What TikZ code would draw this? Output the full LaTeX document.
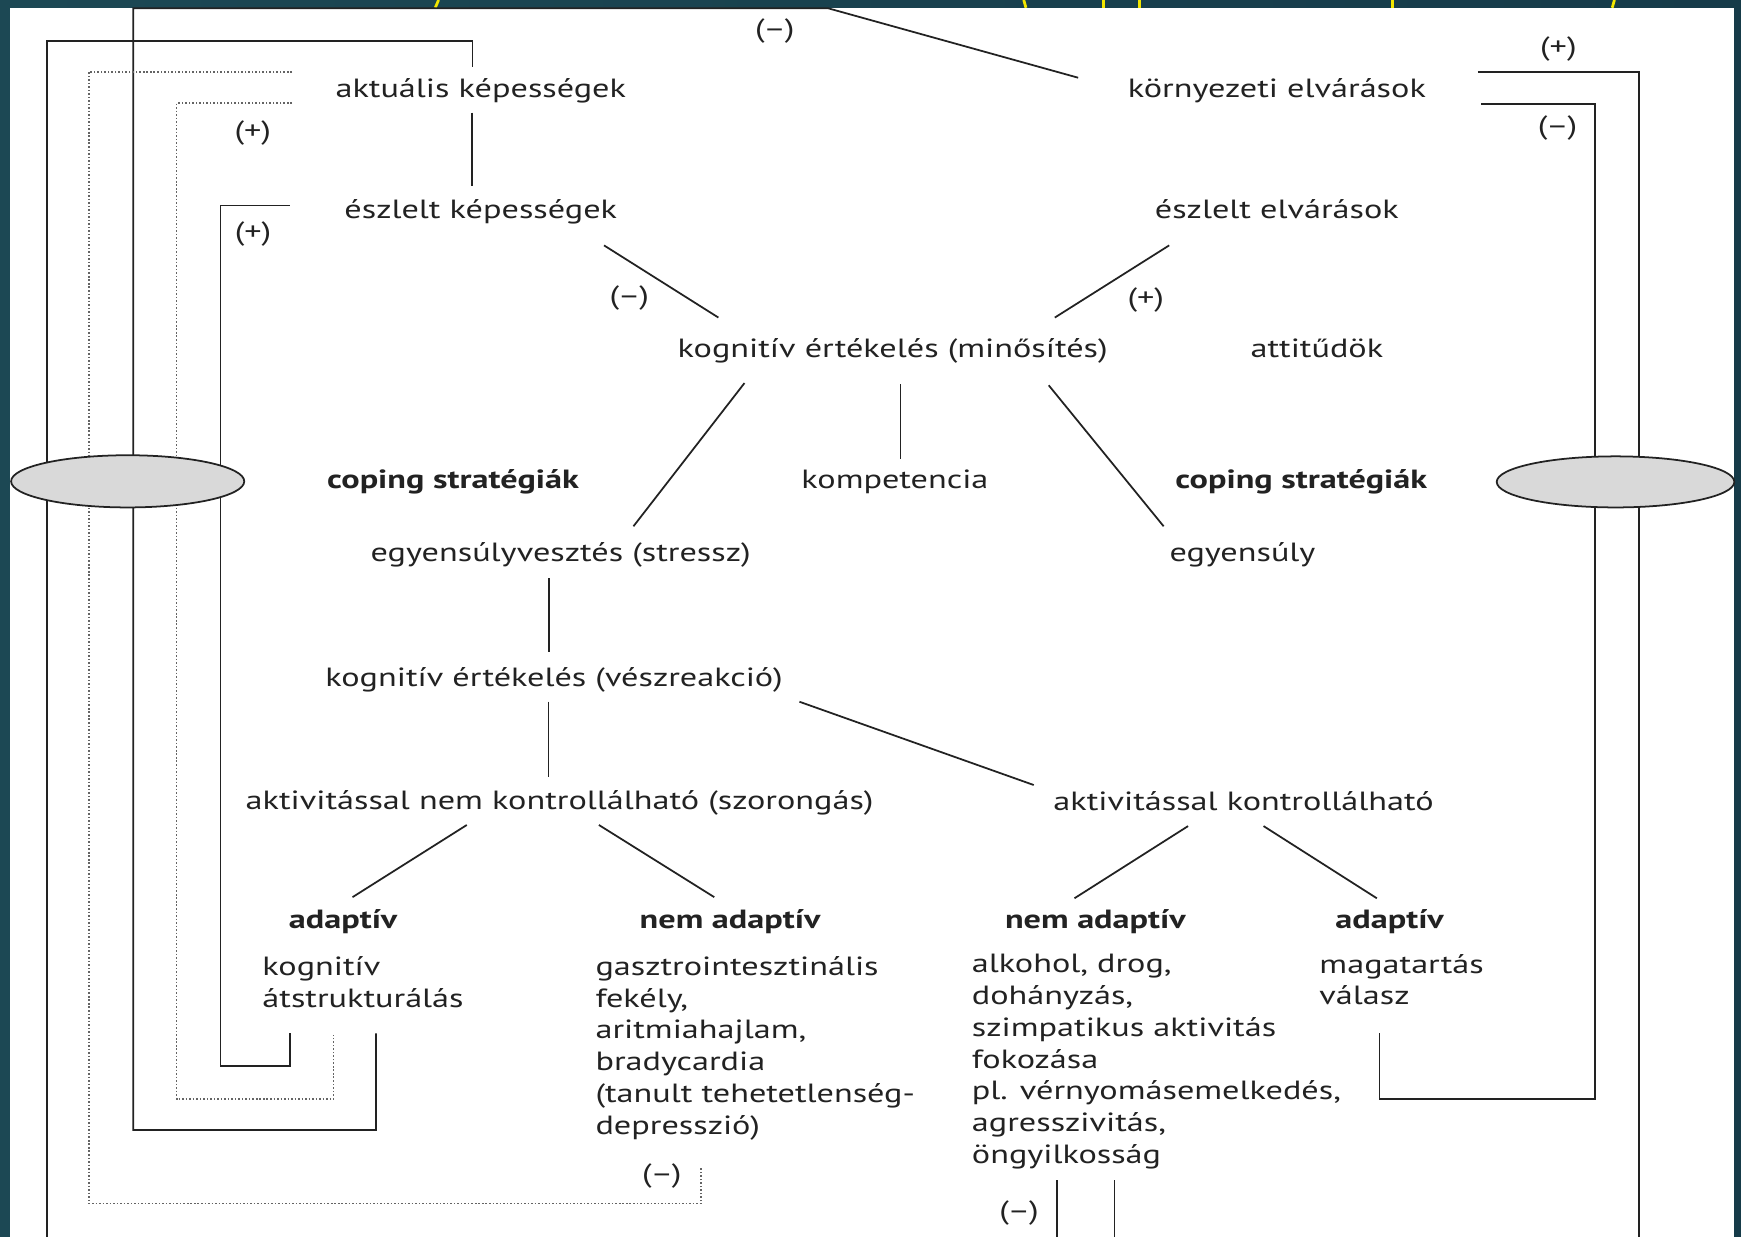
\documentclass[tikz,border=0pt]{standalone}
\usepackage{fontspec}
\setmainfont{PT Sans}[FakeStretch=1.3]
\usetikzlibrary{calc,shapes.geometric}

\definecolor{slideL}{HTML}{1C4854}
\definecolor{slideM}{HTML}{2F6761}
\definecolor{slideR}{HTML}{163B49}
\definecolor{ink}{HTML}{222222}
\definecolor{oval}{HTML}{D9D9D9}
\definecolor{titleink}{HTML}{F2E600}

\tikzset{
  txt/.style={inner sep=0pt,text=ink,text height=10.1pt,text depth=3.4pt},
  hd/.style={txt,font=\fontsize{13.5pt}{16.3pt}\selectfont\bfseries},
  blk/.style={inner sep=0pt,text=ink,align=left,anchor=north west},
  ln/.style={draw=ink,line width=0.9pt},
  dotloop/.style={draw=ink!70,line width=0.8pt,densely dotted},
  oval/.style={ellipse,draw=ink,fill=oval,line width=0.9pt,inner sep=0pt}
}

\begin{document}
\begin{tikzpicture}[x=0.2mm,y=-0.2mm,every node/.style={font=\fontsize{13.5pt}{16.3pt}\selectfont}]
      \useasboundingbox (0,0) rectangle (1568,1114);
      \shade[left color=slideL,middle color=slideM,right color=slideR] (0,0) rectangle (1568,1114);
      \fill[white] (9,7) rectangle (1562,1114);
      \draw[titleink,line width=0.5mm] (395,0) -- (392,7);
      \draw[titleink,line width=0.5mm] (922,0) -- (924,7);
      \draw[titleink,line width=0.5mm] (994,0) -- (994,7);
      \draw[titleink,line width=0.5mm] (1026,0) -- (1026,7);
      \draw[titleink,line width=0.5mm] (1254,0) -- (1254,7);
      \draw[titleink,line width=0.5mm] (1454,0) -- (1452,7);

      \coordinate (b1) at (42.5,1114);
      \coordinate (b2) at (1476,1114);
      \coordinate (b3) at (952.2,1114);
      \coordinate (b4) at (1003.7,1114);

      \node[txt] (1) at (433,82) {aktuális képességek};
      \node[txt] (2) at (1150,82) {környezeti elvárások};
      \node[txt] (3) at (433,191) {észlelt képességek};
      \node[txt] (4) at (1150,191) {észlelt elvárások};
      \node[txt] (5) at (804,316.5) {kognitív értékelés (minősítés)};
      \node[txt] (6) at (1186,316.5) {attitűdök};
      \node[hd] (7) at (408,434) {coping stratégiák};
      \node[txt] (8) at (806,434) {kompetencia};
      \node[hd] (9) at (1172,434) {coping stratégiák};
      \node[txt] (10) at (505,500) {egyensúlyvesztés (stressz)};
      \node[txt] (11) at (1119,500) {egyensúly};
      \node[txt] (12) at (499,612) {kognitív értékelés (vészreakció)};
      \node[txt] (13) at (504,723) {aktivitással nem kontrollálható (szorongás)};
      \node[txt] (14) at (1120,724) {aktivitással kontrollálható};
      \node[hd] (15) at (309,830) {adaptív};
      \node[hd] (16) at (657.5,830) {nem adaptív};
      \node[hd] (17) at (986.5,830) {nem adaptív};
      \node[hd] (18) at (1251.5,830) {adaptív};
      \node[blk] (19) at (236,861) {kognitív\\átstrukturálás};
      \node[blk] (20) at (536,861) {gasztrointesztinális\\fekély,\\aritmiahajlam,\\bradycardia\\(tanult tehetetlenség-\\depresszió)};
      \node[blk] (21) at (875,859) {alkohol, drog,\\dohányzás,\\szimpatikus aktivitás\\fokozása\\pl. vérnyomásemelkedés,\\agresszivitás,\\öngyilkosság};
      \node[blk] (22) at (1188,859) {magatartás\\válasz};

      \draw[ln] ($(1)+(-8,19.5)$) -- ($(3)+(-8,-23.5)$);
      \draw[ln] ($(3)+(111,30)$) -- node[txt,pos=.73,left=6.8mm] (m1) {(–)} ($(5)+(-157,-30.5)$);
      \draw[ln] ($(4)+(-97,30)$) -- node[txt,pos=.75,right=7.8mm] (p1) {(+)} ($(5)+(146,-30.5)$);
      \draw[ln] ($(5)+(-133.5,28.5)$) -- ($(10)+(65.5,-26)$);
      \draw[ln] ($(5)+(7,29.5)$) -- ($(8)+(5,-20.3)$);
      \draw[ln] ($(5)+(140.5,30.5)$) -- ($(11)+(-71,-26)$);
      \draw[ln] ($(10)+(-10.6,20.7)$) -- ($(12)+(-4.6,-25)$);
      \draw[ln] ($(12)+(-5,20)$) -- ($(13)+(-10,-23.5)$);
      \draw[ln] ($(12)+(221,20)$) -- ($(14)+(-189,-17)$);
      \draw[ln] ($(13)+(-83.6,20)$) -- ($(15)+(8.5,-22)$);
      \draw[ln] ($(13)+(35.4,20)$) -- ($(16)+(-14.2,-22)$);
      \draw[ln] ($(14)+(-50,20)$) -- ($(17)+(-18.8,-21)$);
      \draw[ln] ($(14)+(18,20)$) -- ($(18)+(-11.5,-21)$);

      \draw[ln] ($(2)+(-179,-12)$) -- (746,7.5) -- node[txt,pos=.077,below=1.5mm] (m2) {(–)} (120,7.5) -- (120,1017.7) -| ($(19.north west)+(102.7,69.7)$);
      \draw[ln] ($(1)+(-7.5,-22)$) |- (42.5,36.6) -- (b1);
      \draw[dotloop] ($(1)+(-170,-17.4)$) -| (80,1083.8) -| node[txt,pos=.89,left=3.4mm] (m3) {(–)} ($(20.north west)+(95.5,190.8)$);
      \draw[dotloop] ($(1)+(-170,11)$) -| node[txt,pos=.17,below=2.8mm] (p2) {(+)} (159,989.8) -| ($(19.north west)+(64.2,71)$);
      \draw[ln] ($(3)+(-172,-6)$) -| node[txt,pos=.265,below=2.7mm] (p3) {(+)} (198.6,959.8) -| ($(19.north west)+(25.2,69.7)$);
      \draw[ln] ($(2)+(181,-17.4)$) -| node[txt,pos=.25,above=1.6mm] (p4) {(+)} (b2);
      \draw[ln] ($(2)+(184,12)$) -| node[txt,pos=.335,below=1.7mm] (m4) {(–)} (1436.6,989.8) -| ($(22.north west)+(54.4,71.7)$);
      \draw[ln] ($(21.north west)+(77.2,203.8)$) -- node[txt,pos=.586,left=3.2mm] (m5) {(–)} (b3);
      \draw[ln] ($(21.north west)+(128.7,203.8)$) -- (b4);

      \node[oval,minimum width=42mm,minimum height=9.4mm] (e1) at (115,433.5) {};
      \node[oval,minimum width=42.8mm,minimum height=9.2mm] (e2) at (1455,434) {};
    \end{tikzpicture}
\end{document}
